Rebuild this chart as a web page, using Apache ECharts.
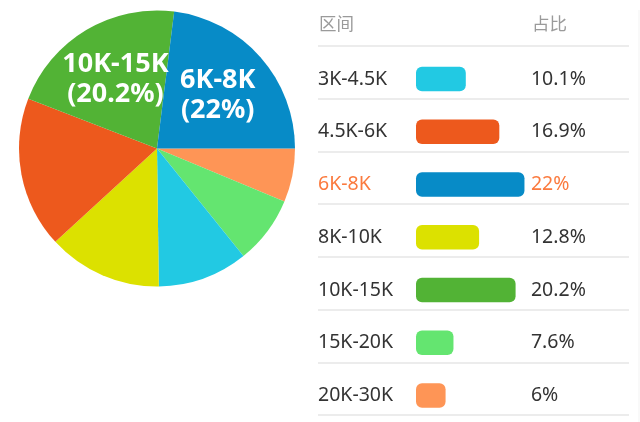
<!DOCTYPE html>
<html><head><meta charset="utf-8">
<script src="https://cdn.jsdelivr.net/npm/echarts@6/dist/echarts.min.js"></script>
<style>html,body{margin:0;padding:0;background:#fff}#c{width:640px;height:422px}</style>
</head><body><div id="c"></div>
<script>
const categories = ['3K-4.5K','4.5K-6K','6K-8K','8K-10K','10K-15K','15K-20K','20K-30K'];
const values = [10.1,16.9,22,12.8,20.2,7.6,6];
const colors = ['#22c9e3','#ed591d','#078bc7','#dce100','#52b335','#64e570','#fe9556'];
const headers = ['区间','占比'];
const highlighted = '6K-8K';
const pieLabeled = ['6K-8K','10K-15K'];

const FONT = '"Noto Sans","Noto Sans CJK SC",sans-serif';
const rows = categories.map((c,i)=>({name:c,value:values[i],itemStyle:{color:colors[i]}}));
const pieData = rows.slice().sort((a,b)=>a.value-b.value);
const maxV = Math.max(...values);
const hiIdx = categories.indexOf(highlighted);

const chart = echarts.init(document.getElementById('c'), null, {renderer:'canvas'});
const txt = {fontFamily:FONT, fontSize:19.5, color:'#333'};
const hl = (v,i)=> i===hiIdx ? '{hl|'+v+'}' : v;
const rich = {hl:{fontFamily:FONT, fontSize:19.5, color:'#fb7a3e'}};

chart.setOption({
  animation:false,
  title:[
    {text:headers[0], left:319, top:16.5, padding:0, textStyle:{fontFamily:FONT, fontSize:17.5, fontWeight:'normal', color:'#9a9a9a', lineHeight:18}},
    {text:headers[1], left:532, top:16.5, padding:0, textStyle:{fontFamily:FONT, fontSize:17.5, fontWeight:'normal', color:'#9a9a9a', lineHeight:18}}
  ],
  grid:[
    {left:416, top:52.6, width:maxV*4.93, height:369.3},
    {left:318, top:46, width:311, height:369}
  ],
  xAxis:[
    {type:'value', gridIndex:0, min:0, max:maxV, show:false},
    {type:'value', gridIndex:1, min:0, max:1, show:false}
  ],
  yAxis:[
    {type:'category', gridIndex:0, data:categories, inverse:true,
     axisLine:{show:false}, axisTick:{show:false},
     axisLabel:Object.assign({align:'left', margin:98, formatter:hl, rich:rich}, txt)},
    {type:'category', gridIndex:0, position:'right', data:values.map(v=>v+'%'), inverse:true,
     axisLine:{show:false}, axisTick:{show:false},
     axisLabel:Object.assign({align:'left', margin:6.5, formatter:hl, rich:rich}, txt)},
    {type:'category', gridIndex:1, data:categories, inverse:true,
     axisLine:{show:false}, axisTick:{show:false}, axisLabel:{show:false},
     splitLine:{show:true, interval:0, lineStyle:{color:'#e6e6e6', width:1.5}}}
  ],
  graphic:[{type:'line', shape:{x1:639, y1:10, x2:639, y2:422}, style:{stroke:'#f3f3f3', lineWidth:1}}],
  series:[
    {type:'bar', xAxisIndex:0, yAxisIndex:0, data:rows, barWidth:24.5, itemStyle:{borderRadius:6}, silent:true},
    {type:'pie', center:[157,148.5], radius:138, startAngle:0, clockwise:true, data:pieData,
     label:{show:false}, labelLine:{show:false}, silent:true},
    {type:'pie', center:[157,148.5], radius:156, startAngle:0, clockwise:true, silent:true, z:5,
     data:pieData.map(d=>({name:d.name, value:d.value, itemStyle:{color:'rgba(0,0,0,0)'}, label:{show:pieLabeled.includes(d.name)}})),
     labelLine:{show:false},
     label:{position:'inside', formatter:'{b}\n({c}%)', color:'#fff', fontFamily:FONT, fontSize:27, fontWeight:'bold', lineHeight:30, textBorderWidth:0}}
  ]
});
</script></body></html>
